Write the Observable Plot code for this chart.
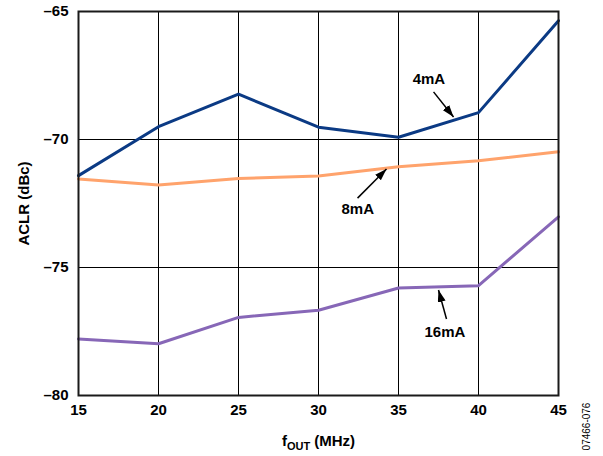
<!DOCTYPE html>
<html>
<head>
<meta charset="utf-8">
<script src="https://cdn.jsdelivr.net/npm/d3@7"></script>
<script src="https://cdn.jsdelivr.net/npm/@observablehq/plot@0.6"></script>
<style>
  html, body { margin: 0; padding: 0; background: #fff; }
  #chart { width: 603px; height: 456px; }
</style>
</head>
<body>
<div id="chart"></div>
<script>
// ---- data ----
const freq = [15, 20, 25, 30, 35, 40, 45];
const aclr4mA = [-71.41, -69.5, -68.23, -69.52, -69.91, -68.95, -65.36];
const aclr8mA = [-71.54, -71.78, -71.52, -71.43, -71.06, -70.83, -70.48];
const aclr16mA = [-77.79, -77.98, -76.95, -76.67, -75.8, -75.71, -73.02];
const yTicks = [-80, -75, -70, -65];

const seriesNames = ["4mA", "8mA", "16mA"];
const seriesColors = ["#0b3a84", "#ffa36c", "#8767b7"];

// annotation labels & arrows (data units)
const annLabels = ["4mA", "8mA", "16mA"];
const annTextX = [36.9, 32.45, 37.9];
const annTextY = [-67.64, -72.71, -77.52];
const annArrowX1 = [37.19, 32.44, 38.0];
const annArrowY1 = [-68.14, -72.29, -77.01];
const annArrowX2 = [38.44, 34.25, 37.5];
const annArrowY2 = [-69.12, -71.15, -75.88];

// ---- build tables ----
const allSeries = [aclr4mA, aclr8mA, aclr16mA];
const rows = [];
allSeries.forEach((vals, si) => vals.forEach((v, i) => rows.push({f: freq[i], v, s: seriesNames[si]})));
const ann = annLabels.map((t, i) => ({
  t, tx: annTextX[i], ty: annTextY[i],
  x1: annArrowX1[i], y1: annArrowY1[i], x2: annArrowX2[i], y2: annArrowY2[i]
}));

const font = "'Liberation Sans', Arial, Helvetica, sans-serif";
const XLABEL = "fOUT (MHz)";

const plot = Plot.plot({
  width: 603,
  height: 456,
  marginLeft: 78,
  marginRight: 45,
  marginTop: 11,
  marginBottom: 61,
  style: {fontFamily: font, fontSize: "15px", fontWeight: "bold", background: "#fff", color: "#000"},
  x: {domain: [15, 45], ticks: freq},
  y: {domain: [-80, -65], ticks: yTicks},
  color: {domain: seriesNames, range: seriesColors},
  marks: [
    Plot.gridX({ticks: freq, stroke: "#000", strokeOpacity: 1, strokeWidth: 1}),
    Plot.gridY({ticks: yTicks, stroke: "#000", strokeOpacity: 1, strokeWidth: 1}),
    Plot.line(rows, {x: "f", y: "v", z: "s", stroke: "s", strokeWidth: 3, strokeLinejoin: "miter"}),
    Plot.frame({stroke: "#1a1a1a", strokeWidth: 2}),
    Plot.axisX({ticks: freq, tickSize: 0, tickPadding: 9, label: null, fontWeight: "bold", fontSize: 15}),
    Plot.axisY({ticks: yTicks, tickSize: 0, tickPadding: 10, label: null, fontWeight: "bold", fontSize: 15,
      tickFormat: d => d < 0 ? "\u2013" + (-d) : String(d)}),
    Plot.link(ann, {x1: "x1", y1: "y1", x2: "x2", y2: "y2", stroke: "#000", strokeWidth: 1.5}),
    Plot.text(ann, {x: "tx", y: "ty", text: "t", fontSize: 15, fontWeight: "bold", fill: "#000"}),
    Plot.text(["ACLR (dBc)"], {frameAnchor: "left", dx: -54, rotate: -90, textAnchor: "middle", lineAnchor: "middle",
      fontSize: 15, fontWeight: "bold", fill: "#000"}),
    Plot.text([XLABEL], {frameAnchor: "bottom", dy: 46, textAnchor: "middle", lineAnchor: "middle",
      fontSize: 15, fontWeight: "bold", fill: "#000"}),
    Plot.text(["07466-076"], {frameAnchor: "bottom-right", dx: 28, dy: 31, rotate: -90, textAnchor: "middle", lineAnchor: "middle",
      fontSize: 10, fontWeight: "normal", fill: "#000"})
  ]
});

document.getElementById("chart").appendChild(plot);

// arrowheads
const svg = d3.select(plot);
svg.insert("defs", ":first-child")
  .append("marker")
  .attr("id", "ah")
  .attr("viewBox", "0 0 12 8")
  .attr("refX", 12).attr("refY", 4)
  .attr("markerWidth", 12).attr("markerHeight", 8)
  .attr("markerUnits", "userSpaceOnUse")
  .attr("orient", "auto")
  .append("path").attr("d", "M0,0L12,4L0,8Z").attr("fill", "#000");
svg.selectAll('g[aria-label="link"] path').attr("marker-end", "url(#ah)");

// subscript in x label
svg.selectAll("text").filter(function() { return this.textContent === XLABEL; }).each(function() {
  const t = d3.select(this);
  t.text(null);
  t.append("tspan").text("f");
  t.append("tspan").text("OUT").attr("font-size", 11).attr("dy", 4);
  t.append("tspan").text(" (MHz)").attr("dy", -4);
});
</script>
</body>
</html>
